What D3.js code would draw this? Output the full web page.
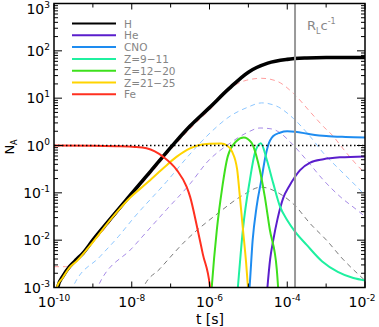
<!DOCTYPE html>
<html>
<head>
<meta charset="utf-8">
<script src="https://cdn.jsdelivr.net/npm/d3@7"></script>
<style>
body { margin:0; background:#fff; }
text { font-family: "DejaVu Sans", sans-serif; }
</style>
</head>
<body>
<div id="chart"></div>
<script>
// values, each point is [log10 t(s), log10 N_A]
var pts_H = [[-9.95,-3.2],[-9.9,-2.98],[-9.77,-2.76],[-9.59,-2.55],[-9.41,-2.4],[-9.25,-2.27],[-9.0,-2.0],[-8.6,-1.6],[-8.12,-1.13],[-7.5,-0.53],[-6.9,0.05],[-6.5,0.41],[-6.0,0.8],[-5.5,1.2],[-5.0,1.55],[-4.5,1.74],[-4.0,1.82],[-3.5,1.85],[-3.0,1.86],[-2.0,1.86]];
var pts_He = [[-4.53,-3.2],[-4.51,-3.0],[-4.44,-2.4],[-4.36,-2.0],[-4.25,-1.55],[-4.1,-1.1],[-3.95,-0.86],[-3.8,-0.66],[-3.67,-0.52],[-3.41,-0.36],[-3.07,-0.29],[-2.64,-0.25],[-2.0,-0.23]];
var pts_CNO = [[-4.99,-3.2],[-4.97,-3.0],[-4.89,-2.0],[-4.79,-1.3],[-4.66,-0.7],[-4.57,-0.27],[-4.5,-0.02],[-4.36,0.2],[-4.19,0.27],[-4.0,0.3],[-3.8,0.29],[-3.41,0.24],[-3.0,0.2],[-2.5,0.18],[-2.0,0.17]];
var pts_Z9 = [[-5.29,-3.2],[-5.27,-3.0],[-5.14,-1.77],[-4.96,-0.72],[-4.83,-0.15],[-4.68,0.05],[-4.53,-0.29],[-4.36,-0.8],[-4.19,-1.28],[-4.0,-1.58],[-3.8,-1.82],[-3.5,-2.1],[-3.1,-2.45],[-2.7,-2.67],[-2.3,-2.8],[-2.0,-2.85]];
var pts_Z12 = [[-5.96,-3.2],[-5.94,-2.97],[-5.81,-1.77],[-5.68,-0.93],[-5.53,-0.23],[-5.31,0.09],[-5.12,0.17],[-4.92,0.06],[-4.75,-0.36],[-4.58,-1.07],[-4.45,-1.77],[-4.27,-2.61],[-4.235,-3.0],[-4.22,-3.2]];
var pts_Z21 = [[-9.96,-3.2],[-9.92,-2.98],[-9.78,-2.8],[-9.6,-2.58],[-9.4,-2.43],[-9.0,-2.04],[-8.5,-1.52],[-8.04,-1.1],[-7.62,-0.8],[-7.19,-0.48],[-6.85,-0.24],[-6.5,-0.06],[-6.0,0.035],[-5.7,0.04],[-5.55,0.0],[-5.42,-0.13],[-5.29,-0.5],[-5.22,-1.07],[-5.14,-1.77],[-5.06,-2.46],[-5.01,-3.0],[-4.99,-3.2]];
var pts_Fe = [[-10,0],[-9,-0.005],[-8.4,-0.015],[-7.92,-0.03],[-7.62,-0.06],[-7.19,-0.24],[-6.84,-0.52],[-6.59,-0.87],[-6.5,-1.08],[-6.32,-1.72],[-6.17,-2.3],[-5.99,-2.97],[-5.96,-3.2]];

// dashed curves (no legend entry)
var pts_pinkDash = [[-10,-2.56],[-9.7,-2.56],[-9.55,-2.5],[-9.0,-2.05],[-8.12,-1.17],[-7.5,-0.58],[-6.9,0.0],[-6.5,0.35],[-6.0,0.75],[-5.5,1.17],[-5.29,1.3],[-5.04,1.38],[-4.66,1.42],[-4.27,1.36],[-3.84,1.1],[-3.41,0.71],[-3.07,0.4],[-2.81,0.19],[-2.64,0.01],[-2.39,-0.24],[-2.08,-0.52],[-1.97,-0.6]];
var pts_blueDash = [[-9.55,-3.1],[-9.5,-2.97],[-8.82,-2.35],[-8.35,-1.93],[-7.97,-1.55],[-7.1,-0.76],[-6.5,-0.18],[-5.94,0.3],[-5.47,0.62],[-5.04,0.8],[-4.66,0.9],[-4.27,0.83],[-3.84,0.57],[-3.41,0.19],[-3.07,-0.16],[-2.64,-0.52],[-2.21,-0.87],[-2.08,-0.98],[-1.97,-1.06]];
var pts_purpleDash = [[-8.92,-3.1],[-8.88,-3.0],[-7.97,-2.15],[-7.1,-1.35],[-6.5,-0.81],[-6.06,-0.35],[-5.47,0.05],[-5.04,0.27],[-4.7,0.37],[-4.4,0.35],[-4.14,0.24],[-3.93,0.08],[-3.5,-0.31],[-3.07,-0.73],[-2.64,-1.08],[-2.21,-1.36],[-2.0,-1.5]];
var pts_grayDash = [[-7.73,-3.1],[-7.7,-3.0],[-7.27,-2.6],[-6.6,-2.0],[-5.81,-1.45],[-5.14,-1.05],[-4.68,-0.88],[-4.19,-1.02],[-3.8,-1.27],[-3.41,-1.65],[-2.99,-2.0],[-2.57,-2.4],[-2.2,-2.7],[-2.0,-2.85]];

var legend_names = ["H", "He", "CNO", "Z=9\u221211", "Z=12\u221220", "Z=21\u221225", "Fe"];
var x_decades = [-10,-9,-8,-7,-6,-5,-4,-3,-2];
var x_label_exp = [-10,-8,-6,-4,-2];
var y_decades = [-3,-2,-1,0,1,2,3];
var log_t_light = -3.8;   // R_L c^-1

var width = 379, height = 327;
var left = 54, right = 365, top_ = 3.5, bottom = 287.5;

var svg = d3.select("#chart").append("svg").attr("width", width).attr("height", height);

var x = d3.scaleLog().domain([1e-10, 1e-2]).range([left, right]);
var y = d3.scaleLog().domain([1e-3, 1e3]).range([bottom, top_]);

function px(d){ return x(Math.pow(10, d[0])); }
function py(d){ return y(Math.pow(10, d[1])); }

svg.append("clipPath").attr("id","plotclip").append("rect")
	.attr("x", left).attr("y", top_).attr("width", right-left).attr("height", bottom-top_);

var plot = svg.append("g").attr("clip-path","url(#plotclip)");
var line = d3.line().x(px).y(py).curve(d3.curveMonotoneX);

// dashed curves first
var dashed = [
	{pts: pts_pinkDash, color: "#ff9e9e"},
	{pts: pts_blueDash, color: "#8cc6ff"},
	{pts: pts_purpleDash, color: "#a68ae6"},
	{pts: pts_grayDash, color: "#7a7a7a"}
];
plot.selectAll(".dash").data(dashed).enter().append("path").attr("class","dash")
	.attr("d", function(d){ return line(d.pts); })
	.attr("fill","none").attr("stroke", function(d){ return d.color; })
	.attr("stroke-width", 1).attr("stroke-dasharray","5,4");

var solid = [
	{pts: pts_H, color: "#000000", w: 3.6},
	{pts: pts_He, color: "#5a1ecc", w: 2},
	{pts: pts_CNO, color: "#1e8cf0", w: 2},
	{pts: pts_Z9, color: "#1ff0a0", w: 2},
	{pts: pts_Z12, color: "#3ee01c", w: 2},
	{pts: pts_Z21, color: "#ffd400", w: 2},
	{pts: pts_Fe, color: "#ff3020", w: 2}
];
plot.selectAll(".sol").data(solid).enter().append("path").attr("class","sol")
	.attr("d", function(d){ return line(d.pts); })
	.attr("fill","none").attr("stroke", function(d){ return d.color; })
	.attr("stroke-width", function(d){ return d.w; });

// N_A = 1 dotted line
plot.append("line").attr("x1", left).attr("x2", right).attr("y1", y(1)).attr("y2", y(1))
	.attr("stroke","#000").attr("stroke-width",1.4).attr("stroke-dasharray","1.5,2.5");

// light crossing time
plot.append("line").attr("x1", x(Math.pow(10, log_t_light))).attr("x2", x(Math.pow(10, log_t_light)))
	.attr("y1", top_).attr("y2", bottom).attr("stroke","#999").attr("stroke-width",2);

var rl = svg.append("text").attr("x", x(Math.pow(10, log_t_light)) + 12).attr("y", 30)
	.attr("fill","#888").style("font-size","13px");
rl.append("tspan").text("R");
rl.append("tspan").attr("dy", 4).style("font-size","8px").text("L");
rl.append("tspan").attr("dy", -4).text("c");
rl.append("tspan").attr("dy", -6).style("font-size","8px").text("-1");

// frame
svg.append("rect").attr("x", left).attr("y", top_).attr("width", right-left).attr("height", bottom-top_)
	.attr("fill","none").attr("stroke","#000").attr("stroke-width",1.5);

// y ticks, left and right
var yMinor = [];
y_decades.slice(0,-1).forEach(function(e){
	for (var k = 2; k < 10; k++) yMinor.push(k*Math.pow(10,e));
});
var axes = svg.append("g").attr("stroke","#000").attr("stroke-width",1);
axes.selectAll(".ymaj").data(y_decades).enter().append("path")
	.attr("d", function(e){ var yy = y(Math.pow(10,e)); return "M"+left+","+yy+"h8M"+right+","+yy+"h-8"; });
axes.selectAll(".ymin").data(yMinor).enter().append("path")
	.attr("d", function(v){ var yy = y(v); return "M"+left+","+yy+"h4M"+right+","+yy+"h-4"; });
// x ticks, top and bottom
axes.selectAll(".xt").data(x_decades).enter().append("path")
	.attr("d", function(e){
		var xx = x(Math.pow(10,e)); var L = (e % 2 == 0) ? 6 : 4;
		return "M"+xx+","+bottom+"v"+(-L)+"M"+xx+","+top_+"v"+L;
	});

// y tick labels
var ylab = svg.selectAll(".ylab").data(y_decades).enter().append("text").attr("class","ylab")
	.attr("x", 50).attr("y", function(e){ return Math.max(y(Math.pow(10,e)) + 5, 13.5); })
	.attr("text-anchor","end").style("font-size","14px");
ylab.append("tspan").text("10");
ylab.append("tspan").attr("dy",-6).style("font-size","9px").text(function(e){ return e < 0 ? "-"+(-e) : e; });

// x tick labels
var xlab = svg.selectAll(".xlab").data(x_label_exp).enter().append("text").attr("class","xlab")
	.attr("x", function(e){ return Math.min(x(Math.pow(10,e)), 362); }).attr("y", 307)
	.attr("text-anchor","middle").style("font-size","14px");
xlab.append("tspan").text("10");
xlab.append("tspan").attr("dy",-6).style("font-size","9px").text(function(e){ return "-"+(-e); });

// axis titles
svg.append("text").attr("x", 210).attr("y", 324).attr("text-anchor","middle").style("font-size","14px").text("t [s]");
var yt = svg.append("text").attr("transform","translate(13.5,147)rotate(-90)").attr("text-anchor","middle").style("font-size","13px");
yt.append("tspan").text("N");
yt.append("tspan").attr("dy",3).style("font-size","8px").text("A");

// legend
var leg = svg.append("g").selectAll("g").data(solid).enter().append("g")
	.attr("transform", function(d,i){ return "translate(0,"+(23.5 + i*11.8)+")"; });
leg.append("line").attr("x1",72).attr("x2",116).attr("y1",0).attr("y2",0)
	.attr("stroke", function(d){ return d.color; }).attr("stroke-width",2);
leg.append("text").attr("x",124).attr("y",4).attr("fill","#858585").style("font-size","10.5px")
	.text(function(d,i){ return legend_names[i]; });
</script>
</body>
</html>
